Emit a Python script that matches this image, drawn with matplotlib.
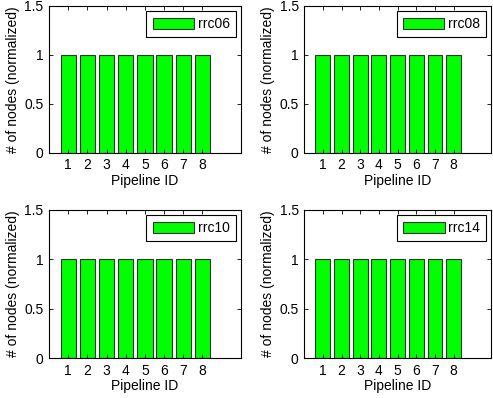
import matplotlib
matplotlib.use("Agg")
import matplotlib.pyplot as plt
import numpy as np

pipeline_ids = [1, 2, 3, 4, 5, 6, 7, 8]
rrc_names = ["rrc06", "rrc08", "rrc10", "rrc14"]
rrc06 = [1, 1, 1, 1, 1, 1, 1, 1]
rrc08 = [1, 1, 1, 1, 1, 1, 1, 1]
rrc10 = [1, 1, 1, 1, 1, 1, 1, 1]
rrc14 = [1, 1, 1, 1, 1, 1, 1, 1]
all_values = [rrc06, rrc08, rrc10, rrc14]

plt.rcParams['font.family'] = ['Liberation Sans', 'DejaVu Sans']
plt.rcParams['font.size'] = 10

fig = plt.figure(figsize=(4.93, 3.98), dpi=100)
positions = [
    [0.0994, 0.616, 0.389, 0.369],
    [0.617, 0.616, 0.379, 0.369],
    [0.0994, 0.1005, 0.389, 0.372],
    [0.617, 0.1005, 0.379, 0.372],
]

for pos, name, vals in zip(positions, rrc_names, all_values):
    ax = fig.add_axes(pos)
    ax.bar(pipeline_ids, vals, width=0.8, color=(0, 1, 0),
           edgecolor='#333333', linewidth=0.8, label=name)
    ax.set_xlim(0, 10)
    ax.set_ylim(0, 1.5)
    ax.set_xticks(pipeline_ids)
    ax.set_yticks([0, 0.5, 1, 1.5])
    ax.set_yticklabels(['0', '0.5', '1', '1.5'])
    ax.tick_params(direction='in', top=True, right=True, length=3, width=0.6, pad=4)
    for s in ax.spines.values():
        s.set_linewidth(0.8)
    ax.set_xlabel('Pipeline ID', labelpad=1)
    ax.set_ylabel('# of nodes (normalized)', labelpad=3)
    leg = ax.legend(loc='upper right', fancybox=False, edgecolor='black',
                    framealpha=1, handlelength=3.0, handleheight=0.9,
                    borderpad=0.45, handletextpad=0.25, borderaxespad=0.35)
    leg.get_frame().set_linewidth(0.8)
    for h in leg.legend_handles:
        h.set_edgecolor('#333333')

fig.savefig('out.png', dpi=100)
